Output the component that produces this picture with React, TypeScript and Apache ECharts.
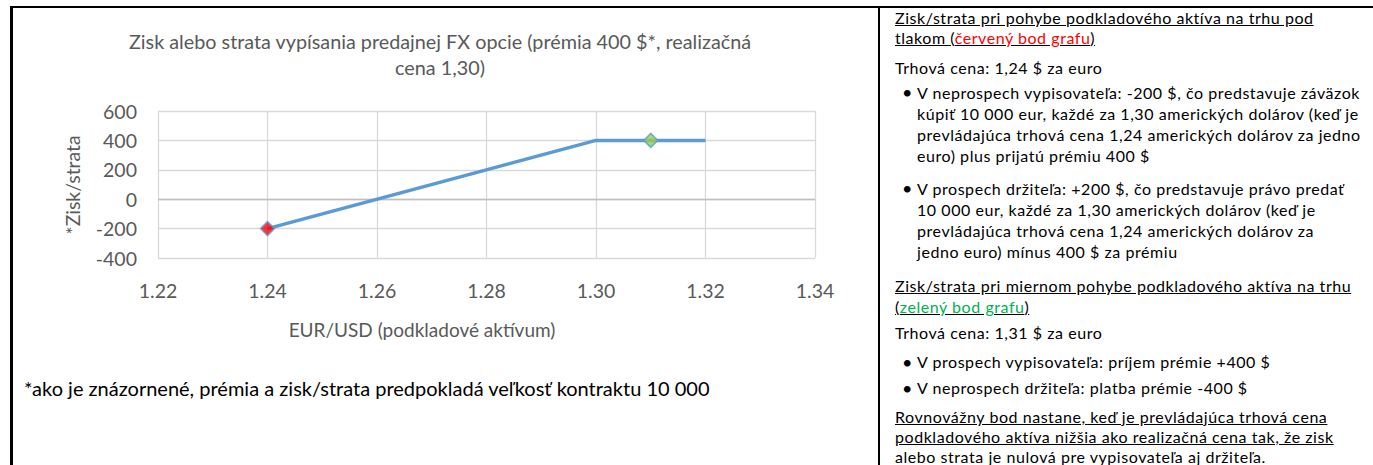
import React, { useEffect, useRef } from "react";
import * as echarts from "echarts";

// ---- data ----
const payoffX = [1.24, 1.3, 1.32];
const payoffY = [-200, 400, 400];
const markerX = [1.24, 1.31];
const markerY = [-200, 400];
const markerFill = ["#ff0000", "#92d050"];
const xMin = 1.22;
const xMax = 1.34;
const xStep = 0.02;
const yMin = -400;
const yMax = 600;
const yStep = 200;

const titleLines = [
  "Zisk alebo strata vypísania predajnej FX opcie (prémia 400 $*, realizačná",
  "cena 1,30)",
];
const yName = "*Zisk/strata";
const xName = "EUR/USD (podkladové aktívum)";
const footnote =
  "*ako je znázornené, prémia a zisk/strata predpokladá veľkosť kontraktu 10 000";

const FONT = "Lato, 'Noto Sans', sans-serif";

export default function App() {
  const ref = useRef<HTMLDivElement>(null);

  useEffect(() => {
    document.body.style.margin = "0";
    if (!ref.current) return;
    const chart = echarts.init(ref.current, null, { renderer: "svg" });
    chart.setOption({
      animation: false,
      textStyle: { fontFamily: FONT },
      grid: { left: 158, right: 870 - 815, top: 111, bottom: 465 - 258, containLabel: false },
      xAxis: {
        type: "value",
        min: xMin,
        max: xMax,
        interval: xStep,
        axisLine: { show: false },
        axisTick: { show: false },
        axisLabel: {
          color: "#595959",
          fontSize: 19.5,
          margin: 22,
          fontFamily: FONT,
          formatter: (v: number) => v.toFixed(2),
        },
        splitLine: { show: true, lineStyle: { color: "#d9d9d9", width: 1.3 } },
      },
      yAxis: {
        type: "value",
        min: yMin,
        max: yMax,
        interval: yStep,
        axisLine: { show: false },
        axisTick: { show: false },
        axisLabel: { color: "#595959", fontSize: 19.5, margin: 21, fontFamily: FONT },
        splitLine: { show: true, lineStyle: { color: "#d9d9d9", width: 1.3 } },
      },
      series: [
        {
          type: "line",
          data: payoffX.map((x, i) => [x, payoffY[i]]),
          showSymbol: false,
          lineStyle: { color: "#5b9bd5", width: 3.5 },
          itemStyle: { color: "#5b9bd5" },
          z: 3,
          markLine: {
            silent: true,
            symbol: "none",
            label: { show: false },
            lineStyle: { color: "#bfbfbf", width: 1.3, type: "solid" },
            data: [{ yAxis: 0 }],
            z: 1,
          },
        },
        {
          type: "scatter",
          symbol: "diamond",
          symbolSize: 14,
          z: 5,
          data: markerX.map((x, i) => ({
            value: [x, markerY[i]],
            itemStyle: { color: markerFill[i], borderColor: "#5b9bd5", borderWidth: 1.5 },
          })),
        },
      ],
      graphic: [
        {
          type: "text",
          x: 440,
          y: 41,
          style: {
            text: titleLines[0],
            fill: "#595959",
            font: `19.8px ${FONT}`,
            align: "center",
            verticalAlign: "middle",
          },
        },
        {
          type: "text",
          x: 440,
          y: 67,
          style: {
            text: titleLines[1],
            fill: "#595959",
            font: `19.8px ${FONT}`,
            align: "center",
            verticalAlign: "middle",
          },
        },
        {
          type: "text",
          x: 72,
          y: 185,
          rotation: Math.PI / 2,
          style: {
            text: yName,
            fill: "#595959",
            font: `19.4px ${FONT}`,
            align: "center",
            verticalAlign: "middle",
          },
        },
        {
          type: "text",
          x: 422,
          y: 329,
          style: {
            text: xName,
            fill: "#595959",
            font: `19px ${FONT}`,
            align: "center",
            verticalAlign: "middle",
          },
        },
        {
          type: "text",
          x: 24,
          y: 388,
          style: {
            text: footnote,
            fill: "#000000",
            font: `20px ${FONT}`,
            align: "left",
            verticalAlign: "middle",
          },
        },
      ],
    });
    return () => chart.dispose();
  }, []);

  const txt: React.CSSProperties = {
    position: "absolute",
    left: 895,
    fontFamily: FONT,
    fontSize: 16,
    letterSpacing: "0.55px",
    color: "#000",
    whiteSpace: "nowrap",
    margin: 0,
  };
  const bulletDot: React.CSSProperties = {
    position: "absolute",
    left: -15,
    top: 0,
    letterSpacing: 0,
    fontSize: 18,
  };
  const ul: React.CSSProperties = { textDecoration: "underline" };
  const line = (l: number, t: number, w: number, h: number): React.CSSProperties => ({
    position: "absolute",
    left: l,
    top: t,
    width: w,
    height: h,
    background: "#000",
  });

  return (
    <div style={{ position: "relative", width: 1373, height: 465, overflow: "hidden", background: "#fff" }}>
      <div ref={ref} style={{ position: "absolute", left: 0, top: 0, width: 870, height: 465 }} />
      {/* table borders */}
      <div style={line(10, 6, 2.5, 460)} />
      <div style={line(10, 6, 856, 1.5)} />
      <div style={line(866, 5.5, 507, 2)} />
      <div style={line(878, 6, 2, 460)} />

      <div style={{ ...txt, top: 8, lineHeight: "20px" }}>
        <span style={ul}>Zisk/strata pri pohybe podkladového aktíva na trhu pod</span>
        <br />
        <span style={ul}>
          tlakom (<span style={{ color: "#ff0000" }}>červený bod grafu</span>)
        </span>
      </div>
      <div style={{ ...txt, top: 58, lineHeight: "20px" }}>Trhová cena: 1,24 $ za euro</div>
      <div style={{ ...txt, left: 917, top: 81.5, lineHeight: "21px" }}>
        <span style={bulletDot}>•</span>
        V neprospech vypisovateľa: -200 $, čo predstavuje záväzok
        <br />
        kúpiť 10 000 eur, každé za 1,30 amerických dolárov (keď je
        <br />
        prevládajúca trhová cena 1,24 amerických dolárov za jedno
        <br />
        euro) plus prijatú prémiu 400 $
      </div>
      <div style={{ ...txt, left: 917, top: 177.5, lineHeight: "21.3px" }}>
        <span style={bulletDot}>•</span>
        V prospech držiteľa: +200 $, čo predstavuje právo predať
        <br />
        10 000 eur, každé za 1,30 amerických dolárov (keď je
        <br />
        prevládajúca trhová cena 1,24 amerických dolárov za
        <br />
        jedno euro) mínus 400 $ za prémiu
      </div>
      <div style={{ ...txt, top: 275, lineHeight: "21px" }}>
        <span style={ul}>Zisk/strata pri miernom pohybe podkladového aktíva na trhu</span>
        <br />
        <span style={ul}>
          (<span style={{ color: "#00b050" }}>zelený bod grafu</span>)
        </span>
      </div>
      <div style={{ ...txt, top: 323, lineHeight: "20px" }}>Trhová cena: 1,31 $ za euro</div>
      <div style={{ ...txt, left: 917, top: 352, lineHeight: "20px" }}>
        <span style={bulletDot}>•</span>V prospech vypisovateľa: príjem prémie +400 $
      </div>
      <div style={{ ...txt, left: 917, top: 378, lineHeight: "20px" }}>
        <span style={bulletDot}>•</span>V neprospech držiteľa: platba prémie -400 $
      </div>
      <div style={{ ...txt, top: 406.5, lineHeight: "20.3px" }}>
        <span style={ul}>Rovnovážny bod nastane, keď je prevládajúca trhová cena</span>
        <br />
        <span style={ul}>podkladového aktíva nižšia ako realizačná cena tak, že zisk</span>
        <br />
        alebo strata je nulová pre vypisovateľa aj držiteľa.
      </div>
    </div>
  );
}
